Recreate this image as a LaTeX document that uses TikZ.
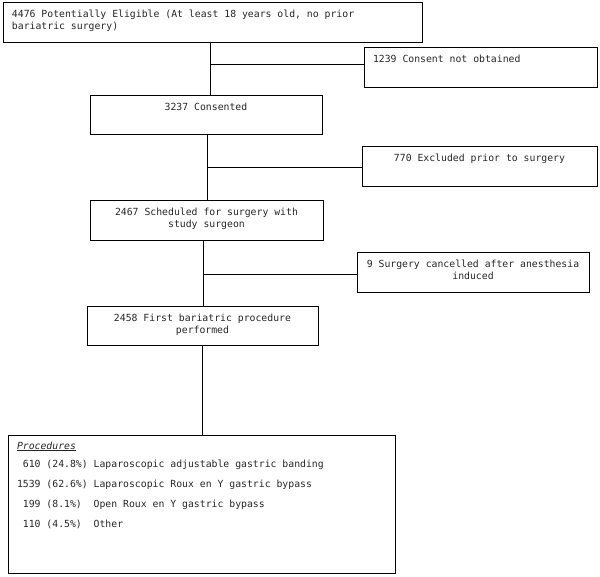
\documentclass[tikz,border=0pt]{standalone}
\usepackage{fontspec}
\setmainfont{DejaVu Sans Mono}
\usepackage{tikz}
\usetikzlibrary{positioning}

\newcommand{\stagetext}[4]{\parbox[c][#2][t]{#1}{#3\rule{0pt}{15pt}#4}}

\begin{document}
\begin{tikzpicture}[x=1pt,y=-1pt,
    every node/.style={font=\fontsize{9.8}{12}\selectfont, text=black!85},
    stage/.style={draw, line width=1pt, inner xsep=9pt, inner ysep=0pt},
    link/.style={line width=0.8pt}]
  \useasboundingbox (0,0) rectangle (600,577);
      \draw (212.5,23) node[stage] (eligible) {\stagetext{401pt}{40pt}{\raggedright}{4476 Potentially Eligible (At least 18 years old, no prior\\bariatric surgery)}};
  \draw (480.5,68) node[stage] (notobt) {\stagetext{215pt}{40pt}{\raggedright}{1239 Consent not obtained}};
      \draw (206,115.5) node[stage] (consented) {\stagetext{214pt}{39pt}{\centering}{3237 Consented}};
  \draw (479.5,167) node[stage] (excluded) {\stagetext{217pt}{40pt}{\centering}{770 Excluded prior to surgery}};
      \draw (206.5,221) node[stage] (scheduled) {\stagetext{215pt}{40pt}{\centering}{2467 Scheduled for surgery with\\study surgeon}};
  \draw (473,273) node[stage] (cancelled) {\stagetext{214pt}{40pt}{\centering}{9 Surgery cancelled after anesthesia\\induced}};
      \draw (202.5,326.5) node[stage] (performed) {\stagetext{213pt}{39pt}{\centering}{2458 First bariatric procedure\\performed}};
  \draw (201.5,504) node[stage] (procedures) {\parbox[c][138pt][t]{369pt}{\renewcommand{\arraystretch}{1.667}%
      \begin{tabular}[t]{@{}r@{\ }l@{\ }l@{}}
        \multicolumn{3}{@{}l@{}}{\underline{\textit{Procedures}}}\\[-2pt]
        610 & (24.8\%) & Laparoscopic adjustable gastric banding\\
        1539 & (62.6\%) & Laparoscopic Roux en Y gastric bypass\\
        199 & (8.1\%) & Open Roux en Y gastric bypass\\
        110 & (4.5\%) & Other
      \end{tabular}}};
  \coordinate (j1) at (210,64);
  \coordinate (j2) at (207,167);
  \coordinate (j3) at (203,274);
     \path[link] (eligible.south -| j1) edge (consented.north -| j1);
     \path[link] (j1) edge (j1 -| notobt.west);
     \path[link] (consented.south -| j2) edge (scheduled.north -| j2);
     \path[link] (j2) edge (j2 -| excluded.west);
     \path[link] (scheduled.south -| j3) edge (performed.north -| j3);
     \path[link] (j3) edge (j3 -| cancelled.west);
     \path[link] (performed.south) edge (performed.south |- procedures.north);
\end{tikzpicture}
\end{document}
